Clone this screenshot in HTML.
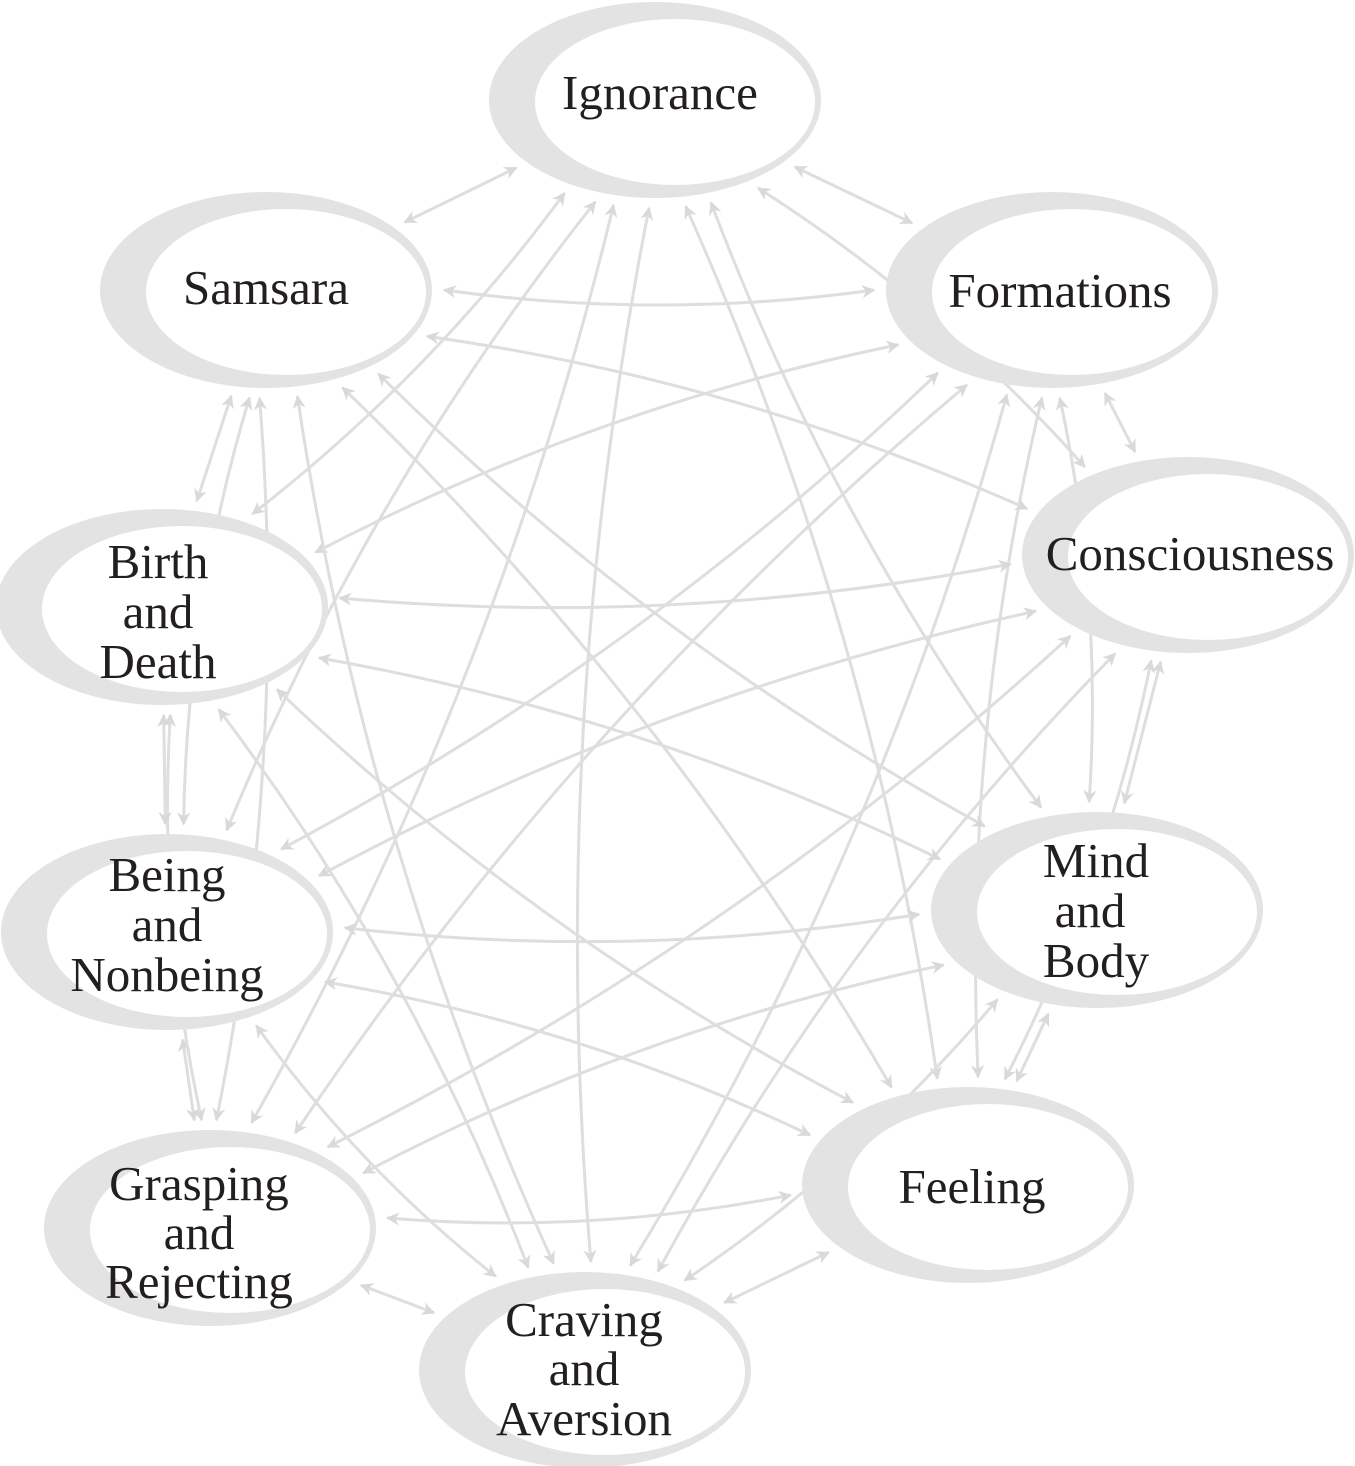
<!DOCTYPE html>
<html><head><meta charset="utf-8">
<style>
html,body{margin:0;padding:0;background:#fff;}
svg{display:block;}
text{font-family:"Liberation Serif",serif;font-size:49px;fill:#231f20;text-anchor:middle;}
</style></head>
<body>
<svg id="s" width="1355" height="1466" viewBox="0 0 1355 1466" xmlns="http://www.w3.org/2000/svg">
<defs>
<marker id="a" viewBox="0 0 10 10" refX="9" refY="5" markerWidth="6" markerHeight="6" orient="auto-start-reverse" markerUnits="userSpaceOnUse" style="overflow:visible">
<path d="M0,0 L10,5 L0,10 L3,5 z" fill="#d9d9d9" transform="scale(2.2) translate(-5,-2.7)"/>
</marker>
</defs>
<g id="lines" fill="none" stroke="#dedede" stroke-width="3"></g>
<g id="rings"></g>
<g id="labels">
<text x="660" y="109">Ignorance</text>
<text x="266" y="304">Samsara</text>
<text x="1060" y="307">Formations</text>
<text x="158" y="578">Birth</text><text x="158" y="628">and</text><text x="158" y="678">Death</text>
<text x="1190" y="570">Consciousness</text>
<text x="167" y="891">Being</text><text x="167" y="941">and</text><text x="167" y="991">Nonbeing</text>
<text x="1096" y="877">Mind</text><text x="1090" y="927">and</text><text x="1096" y="977">Body</text>
<text x="199" y="1200">Grasping</text><text x="199" y="1249">and</text><text x="199" y="1298">Rejecting</text>
<text x="972" y="1203">Feeling</text>
<text x="584" y="1336">Craving</text><text x="584" y="1385">and</text><text x="584" y="1435">Aversion</text>
</g>
</svg>
<script>
var N=[[655,100],[1052,290],[1188,555],[1097,910],[968,1185],[585,1370],[210,1228],[167,932],[162,607],[266,290]];
var NS="http://www.w3.org/2000/svg";
var rings=document.getElementById('rings'),lines=document.getElementById('lines');
N.forEach(function(c){
  var o=document.createElementNS(NS,'ellipse');
  o.setAttribute('cx',c[0]);o.setAttribute('cy',c[1]);o.setAttribute('rx',166);o.setAttribute('ry',98);
  o.setAttribute('fill','#e3e3e3');rings.appendChild(o);
  var i=document.createElementNS(NS,'ellipse');
  i.setAttribute('cx',c[0]+20);i.setAttribute('cy',c[1]+2);i.setAttribute('rx',140);i.setAttribute('ry',83);
  i.setAttribute('fill','#fff');rings.appendChild(i);
});
function edge(c,dx,dy){var L=Math.hypot(dx,dy);var ux=dx/L,uy=dy/L;var r=1/Math.sqrt(Math.pow(ux/178,2)+Math.pow(uy/108,2));return [c[0]+ux*r,c[1]+uy*r];}
for(var a=0;a<10;a++)for(var b=a+1;b<10;b++){
  var A=N[a],B=N[b],dx=B[0]-A[0],dy=B[1]-A[1];
  var p=edge(A,dx,dy),q=edge(B,-dx,-dy);
  var L=Math.hypot(q[0]-p[0],q[1]-p[1]);
  var d=b-a;var adj=(d==1||d==9);
  var off=adj?0:L*0.07*((a+b)%2?1:-1);
  var mx=(p[0]+q[0])/2-(q[1]-p[1])/L*off,my=(p[1]+q[1])/2+(q[0]-p[0])/L*off;
  var path=document.createElementNS(NS,'path');
  path.setAttribute('d','M'+p[0]+','+p[1]+' Q'+mx+','+my+' '+q[0]+','+q[1]);
  path.setAttribute('marker-start','url(#a)');path.setAttribute('marker-end','url(#a)');
  lines.appendChild(path);
}
</script>
</body></html>
